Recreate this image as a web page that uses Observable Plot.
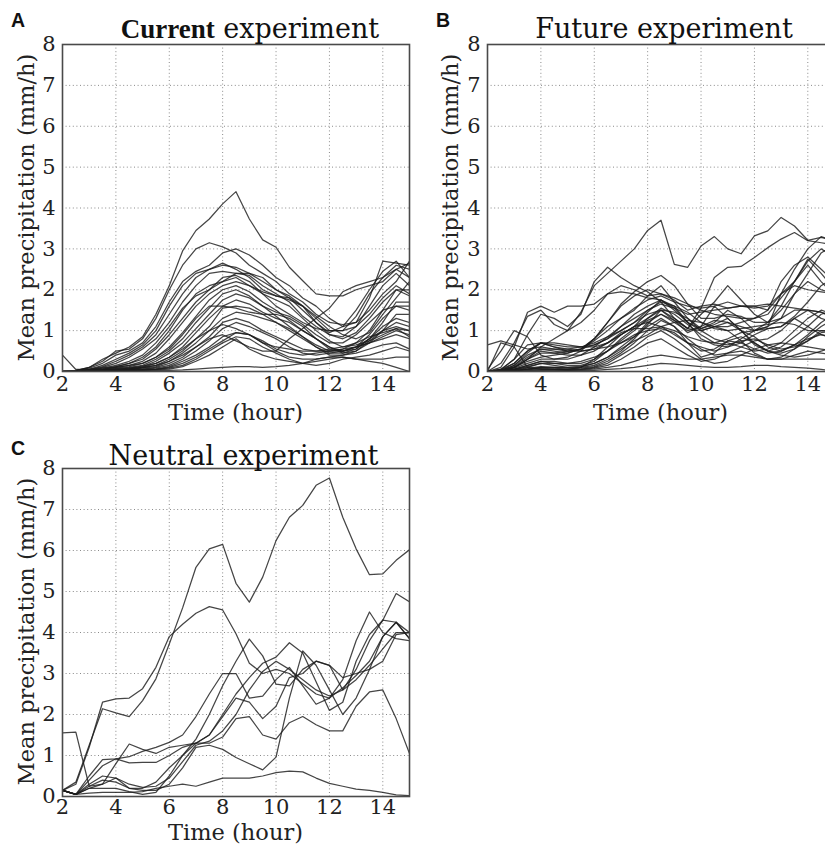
<!DOCTYPE html>
<html><head><meta charset="utf-8">
<script src="https://cdn.jsdelivr.net/npm/d3@7"></script>
<script src="https://cdn.jsdelivr.net/npm/@observablehq/plot@0.6"></script>
<style>
html,body{margin:0;padding:0;background:#fff;overflow:hidden;width:825px;height:851px;}
#wrap{position:relative;width:825px;height:851px;overflow:hidden;background:#fff;}
.panel{position:absolute;width:420px;}
.panel svg{max-width:none !important;}
</style></head><body><div id="wrap">
<div class="panel" id="pA" style="left:0;top:0"></div>
<div class="panel" id="pB" style="left:425px;top:0"></div>
<div class="panel" id="pC" style="left:0;top:424px"></div>
</div>
<script>
const times = [2,2.5,3,3.5,4,4.5,5,5.5,6,6.5,7,7.5,8,8.5,9,9.5,10,10.5,11,11.5,12,12.5,13,13.5,14,14.5,15];
const xTicks = [2,4,6,8,10,12,14];
const yTicks = [0,1,2,3,4,5,6,7,8];
const xLabel = "Time (hour)";
const yLabel = "Mean precipitation (mm/h)";

const currentRuns = [
[0.02,0.02,0.1,0.3,0.45,0.6,0.85,1.4,2.1,2.95,3.45,3.73,4.1,4.4,3.73,3.22,3.04,2.55,2.22,1.9,1.85,1.85,2.0,2.1,2.2,2.5,2.3],
[0.0,0.02,0.1,0.25,0.5,0.55,0.8,1.3,2.0,2.6,3.0,3.15,3.05,2.9,2.6,2.4,2.2,1.9,1.7,1.4,1.2,1.15,1.2,1.8,2.7,2.65,2.6],
[0.0,0.02,0.08,0.2,0.4,0.5,0.7,1.1,1.7,2.2,2.45,2.6,2.9,3.0,2.85,2.6,2.3,2.1,1.8,1.6,1.3,1.1,1.2,1.5,1.9,2.2,2.7],
[0.0,0.0,0.05,0.15,0.3,0.45,0.65,1.0,1.6,2.1,2.4,2.5,2.6,2.55,2.4,2.2,2.0,1.85,1.6,1.3,1.0,1.0,1.35,1.9,2.3,2.6,2.5],
[0.0,0.0,0.05,0.12,0.25,0.4,0.6,0.9,1.4,1.9,2.3,2.5,2.65,2.5,2.3,2.0,1.85,1.8,1.6,1.2,0.95,1.1,1.5,2.0,2.45,2.7,2.3],
[0.0,0.0,0.04,0.1,0.2,0.35,0.55,0.8,1.2,1.7,2.1,2.4,2.45,2.4,2.35,2.1,1.9,1.7,1.35,1.1,0.9,0.85,1.1,1.6,2.1,2.4,2.1],
[0.0,0.0,0.03,0.08,0.15,0.25,0.4,0.7,1.1,1.55,1.85,2.0,2.2,2.4,2.4,2.3,2.0,1.8,1.5,1.2,0.9,0.8,0.95,1.3,1.7,2.0,2.0],
[0.0,0.0,0.03,0.06,0.12,0.2,0.3,0.55,0.9,1.3,1.7,2.0,2.3,2.35,2.2,1.9,1.6,1.4,1.2,1.05,1.0,1.0,1.1,1.4,1.8,2.1,1.9],
[0.0,0.0,0.02,0.05,0.1,0.15,0.25,0.45,0.8,1.2,1.6,1.9,2.1,2.2,2.1,1.9,1.75,1.6,1.3,1.0,0.75,0.6,0.7,1.0,1.5,2.0,1.85],
[0.0,0.0,0.02,0.04,0.08,0.12,0.2,0.35,0.6,0.95,1.35,1.75,2.0,2.1,1.95,1.7,1.5,1.25,1.0,0.8,0.6,0.5,0.55,0.8,1.2,1.7,1.7],
[0.0,0.0,0.02,0.04,0.07,0.1,0.15,0.3,0.5,0.8,1.2,1.55,1.9,2.0,1.85,1.6,1.45,1.35,1.15,0.9,0.7,0.7,0.9,1.2,1.5,1.6,1.6],
[0.0,0.0,0.02,0.03,0.05,0.08,0.12,0.25,0.45,0.7,1.05,1.4,1.75,1.9,1.8,1.6,1.35,1.1,0.85,0.65,0.5,0.5,0.6,0.9,1.3,1.6,1.5],
[0.0,0.0,0.01,0.03,0.05,0.07,0.1,0.2,0.35,0.6,0.95,1.3,1.6,1.75,1.65,1.45,1.3,1.2,1.0,0.8,0.6,0.45,0.5,0.7,1.0,1.4,1.4],
[0.0,0.0,0.01,0.02,0.04,0.06,0.09,0.15,0.3,0.5,0.8,1.1,1.55,1.6,1.55,1.4,1.2,1.0,0.8,0.6,0.45,0.45,0.55,0.8,1.1,1.3,1.2],
[0.0,0.0,0.01,0.02,0.03,0.05,0.08,0.12,0.25,0.45,0.7,1.0,1.3,1.45,1.4,1.3,1.2,1.05,0.85,0.6,0.4,0.4,0.5,0.75,1.0,1.2,1.1],
[0.0,0.0,0.01,0.02,0.03,0.04,0.06,0.1,0.2,0.35,0.6,0.85,1.2,1.3,1.2,1.0,0.85,0.7,0.55,0.5,0.5,0.55,0.7,0.85,0.95,1.05,1.0],
[0.0,0.0,0.01,0.02,0.03,0.04,0.05,0.08,0.15,0.3,0.5,0.75,1.05,1.2,1.1,0.95,0.8,0.6,0.45,0.4,0.45,0.5,0.6,0.7,0.85,1.0,0.9],
[0.0,0.0,0.01,0.01,0.02,0.03,0.04,0.06,0.12,0.25,0.4,0.6,0.85,0.95,0.9,0.75,0.55,0.45,0.4,0.45,0.5,0.55,0.6,0.7,0.8,0.9,0.8],
[0.0,0.0,0.0,0.01,0.02,0.03,0.04,0.05,0.1,0.2,0.35,0.55,0.75,0.95,0.9,0.7,0.5,0.35,0.3,0.3,0.35,0.4,0.45,0.55,0.65,0.7,0.55],
[0.0,0.0,0.0,0.01,0.02,0.02,0.03,0.05,0.08,0.15,0.3,0.5,0.7,0.85,0.8,0.6,0.45,0.3,0.2,0.15,0.2,0.3,0.35,0.4,0.5,0.6,0.5],
[0.0,0.0,0.0,0.01,0.01,0.02,0.03,0.04,0.06,0.12,0.25,0.4,0.6,0.8,0.55,0.4,0.3,0.25,0.2,0.25,0.3,0.35,0.3,0.25,0.2,0.1,0.0],
[0.0,0.0,0.0,0.0,0.01,0.01,0.01,0.02,0.03,0.04,0.06,0.08,0.1,0.12,0.12,0.1,0.12,0.15,0.2,0.3,0.35,0.35,0.3,0.3,0.3,0.35,0.35],
[0.4,0.05,0.05,0.08,0.12,0.2,0.35,0.6,1.0,1.5,1.9,2.1,2.2,2.3,2.1,1.95,1.85,1.75,1.6,1.35,1.1,0.9,0.8,0.95,1.4,1.8,2.2],
[0.0,0.0,0.01,0.02,0.04,0.06,0.1,0.15,0.25,0.4,0.6,0.8,0.9,0.75,0.6,0.5,0.5,0.8,1.05,1.3,1.55,1.95,2.1,2.2,2.3,2.5,2.65],
[0.0,0.0,0.02,0.05,0.1,0.15,0.2,0.35,0.55,0.9,1.3,1.6,1.6,1.55,1.45,1.4,1.4,1.3,1.1,0.8,0.55,0.5,0.6,0.8,1.0,1.1,1.0],
[0.0,0.0,0.01,0.03,0.05,0.08,0.13,0.2,0.35,0.55,0.8,1.0,1.15,1.05,0.9,0.7,0.6,0.55,0.5,0.5,0.55,0.6,0.65,0.75,0.9,1.05,0.85]
];

const futureRuns = [
[0.0,0.0,0.1,0.3,0.6,0.8,1.0,1.45,2.1,2.4,2.7,3.0,3.45,3.7,2.62,2.55,3.07,3.3,3.0,2.88,3.32,3.44,3.77,3.56,3.21,3.28,3.2],
[0.0,0.05,0.3,0.9,1.4,1.3,1.1,1.4,2.2,2.55,2.3,2.1,1.95,1.7,1.3,1.05,1.55,2.3,2.55,2.57,2.79,3.03,3.24,3.4,3.2,3.15,3.1],
[0.0,0.1,0.6,1.45,1.6,1.45,1.6,1.6,1.65,1.9,2.1,2.0,1.85,1.9,1.75,1.5,1.6,1.65,1.55,1.6,1.6,1.5,1.9,2.2,2.7,3.0,2.8],
[0.0,0.2,0.7,1.35,1.5,1.15,1.0,1.2,1.5,1.9,1.95,1.9,1.8,1.75,1.6,1.2,1.05,1.2,1.5,1.3,1.0,1.1,1.9,2.5,3.0,3.3,3.2],
[0.05,0.5,1.0,0.85,0.4,0.3,0.35,0.5,0.8,1.1,1.3,1.5,1.85,2.1,1.7,1.3,1.0,0.8,0.7,0.6,0.5,0.55,0.7,1.0,1.3,1.5,1.4],
[0.65,0.75,0.65,0.55,0.6,0.55,0.5,0.5,0.55,0.7,0.9,1.1,1.45,1.75,1.55,1.2,0.8,0.65,0.6,0.7,0.9,1.05,1.1,1.3,1.1,0.9,0.8],
[0.0,0.7,0.6,0.1,0.05,0.05,0.05,0.1,0.3,0.6,0.9,1.1,1.2,1.1,0.9,0.7,0.6,0.5,0.6,0.8,1.0,1.1,1.3,1.9,2.2,2.0,1.9],
[0.0,0.05,0.2,0.5,0.7,0.65,0.6,0.6,0.7,0.85,1.0,1.2,1.4,1.5,1.3,1.05,1.4,1.7,2.1,1.75,1.4,1.2,1.3,1.5,1.5,1.3,1.2],
[0.0,0.02,0.15,0.4,0.55,0.5,0.45,0.55,0.8,1.2,1.6,1.85,2.0,1.9,1.8,1.65,1.5,1.4,1.35,1.3,1.3,1.5,2.2,2.6,2.8,2.5,2.2],
[0.0,0.02,0.1,0.3,0.45,0.45,0.5,0.55,0.75,1.0,1.3,1.55,1.75,1.85,1.7,1.6,1.55,1.6,1.7,1.6,1.55,1.6,1.9,2.1,2.0,1.95,1.9],
[0.0,0.02,0.1,0.25,0.35,0.4,0.45,0.55,0.8,1.2,1.65,1.95,2.2,2.35,2.1,1.65,1.3,1.3,1.4,1.35,1.2,1.2,1.6,2.2,2.6,2.2,1.85],
[0.0,0.02,0.08,0.2,0.3,0.3,0.3,0.4,0.6,0.85,1.1,1.4,1.6,1.75,1.5,1.2,1.0,1.1,1.2,1.1,1.0,1.05,1.1,1.35,1.7,2.1,2.3],
[0.0,0.02,0.05,0.15,0.25,0.2,0.15,0.15,0.25,0.5,0.75,1.0,1.3,1.5,1.25,0.95,1.1,1.6,1.3,1.0,0.85,0.6,0.5,0.65,0.9,1.2,1.4],
[0.0,0.01,0.05,0.1,0.2,0.15,0.1,0.12,0.2,0.35,0.6,0.85,1.1,1.3,1.1,0.8,0.55,0.4,0.45,0.6,0.75,0.8,1.0,1.3,1.5,1.45,1.3],
[0.0,0.01,0.04,0.08,0.12,0.1,0.08,0.1,0.15,0.3,0.5,0.8,1.15,1.5,1.45,1.3,1.05,1.15,1.3,1.0,0.7,0.5,0.45,0.55,0.75,1.0,0.95],
[0.0,0.01,0.03,0.06,0.1,0.08,0.06,0.08,0.12,0.25,0.45,0.7,1.0,1.25,1.1,0.7,0.35,0.45,0.75,0.7,0.55,0.45,0.5,0.65,0.8,0.9,0.85],
[0.0,0.01,0.02,0.05,0.08,0.06,0.05,0.06,0.1,0.2,0.4,0.6,0.85,1.0,0.8,0.55,0.3,0.2,0.25,0.4,0.55,0.65,0.7,0.65,0.6,0.55,0.5],
[0.0,0.0,0.02,0.04,0.06,0.05,0.04,0.05,0.08,0.15,0.3,0.5,0.7,0.8,0.6,0.4,0.25,0.3,0.45,0.5,0.4,0.3,0.3,0.4,0.5,0.45,0.4],
[0.0,0.0,0.0,0.01,0.01,0.01,0.02,0.02,0.03,0.05,0.07,0.1,0.15,0.2,0.18,0.15,0.12,0.1,0.1,0.12,0.15,0.15,0.12,0.1,0.08,0.05,0.02],
[0.0,0.0,0.01,0.02,0.03,0.03,0.03,0.04,0.06,0.1,0.15,0.25,0.35,0.4,0.35,0.3,0.3,0.35,0.4,0.4,0.35,0.3,0.3,0.3,0.3,0.3,0.3],
[0.0,0.03,0.2,0.5,0.7,0.6,0.5,0.55,0.65,0.8,1.0,1.2,1.5,1.7,1.6,1.45,1.2,1.1,1.1,1.2,1.3,1.4,1.8,2.2,2.75,2.4,2.0],
[0.0,0.02,0.15,0.45,0.7,0.7,0.65,0.6,0.6,0.7,0.9,1.1,1.3,1.55,1.4,1.15,0.9,0.7,0.65,0.75,0.8,0.65,0.55,0.6,0.75,0.95,1.0],
[0.0,0.02,0.1,0.3,0.5,0.45,0.4,0.4,0.5,0.7,0.95,1.05,1.05,1.1,1.2,1.25,1.2,1.05,1.0,1.05,1.1,1.15,1.2,1.15,1.0,1.0,1.0],
[0.0,0.02,0.12,0.35,0.55,0.55,0.55,0.6,0.65,0.8,1.1,1.3,1.5,1.65,1.55,1.4,1.45,1.5,1.55,1.6,1.6,1.65,1.6,1.55,1.5,1.45,1.35],
[0.0,0.01,0.06,0.15,0.25,0.25,0.2,0.2,0.3,0.5,0.7,0.9,1.0,1.05,0.95,0.7,0.5,0.55,0.75,0.85,0.7,0.5,0.4,0.35,0.4,0.5,0.6],
[0.0,0.05,0.3,0.65,0.7,0.6,0.55,0.5,0.55,0.6,0.7,0.85,1.2,1.4,1.25,1.05,1.0,1.1,1.0,0.75,0.45,0.3,0.35,0.55,0.85,1.1,1.3],
[0.0,0.01,0.05,0.12,0.2,0.2,0.2,0.25,0.35,0.5,0.8,1.05,1.25,1.4,1.2,1.0,1.1,1.25,1.2,1.0,0.65,0.5,0.6,0.85,1.1,1.4,1.5],
[0.0,0.01,0.03,0.06,0.1,0.1,0.1,0.12,0.2,0.35,0.55,0.75,0.9,1.1,1.0,0.85,0.75,0.7,0.8,0.95,1.0,1.2,1.5,1.9,2.4,2.9,3.1]
];

const neutralRuns = [
[0.15,0.35,1.25,2.14,2.04,1.95,2.34,2.87,3.72,4.6,5.59,6.04,6.15,5.2,4.74,5.35,6.24,6.81,7.1,7.59,7.77,6.81,6.04,5.41,5.43,5.76,6.02],
[0.15,0.3,1.2,2.3,2.38,2.4,2.63,3.15,3.9,4.2,4.47,4.63,4.55,3.97,3.25,3.0,3.1,3.0,2.75,2.5,2.4,2.65,2.95,3.3,3.9,4.25,3.85],
[1.55,1.57,0.25,0.3,0.45,0.3,0.22,0.25,0.45,0.85,1.25,1.35,1.6,2.0,2.6,3.05,3.3,3.1,2.85,2.6,2.45,2.6,2.85,3.2,3.6,4.0,4.0],
[0.15,0.05,0.08,0.1,0.1,0.1,0.12,0.2,0.25,0.3,0.25,0.35,0.45,0.45,0.45,0.5,0.58,0.62,0.6,0.45,0.32,0.25,0.18,0.15,0.1,0.04,0.02],
[0.15,0.05,0.2,0.3,0.8,1.28,1.15,1.05,1.2,1.25,1.3,1.3,1.45,1.9,1.95,1.5,1.4,1.8,1.95,1.75,1.6,1.6,2.2,2.55,2.6,1.9,1.05],
[0.15,0.05,0.5,0.9,0.92,0.97,1.1,1.2,1.32,1.5,1.95,2.5,3.0,3.0,2.4,2.45,2.85,3.15,2.7,2.25,2.4,2.85,3.8,4.5,4.0,3.85,3.8],
[0.15,0.05,0.4,0.75,0.92,0.82,0.83,0.83,1.0,1.2,1.3,1.5,1.95,2.4,2.3,1.9,2.2,2.9,3.0,3.3,3.2,2.9,3.0,3.1,3.3,3.95,4.0],
[0.15,0.05,0.2,0.2,0.2,0.12,0.05,0.1,0.5,1.0,1.4,2.0,2.7,3.3,3.84,3.43,2.74,2.7,3.1,3.3,3.2,2.6,3.1,3.8,4.3,4.25,3.85],
[0.15,0.05,0.25,0.4,0.35,0.2,0.2,0.35,0.7,1.0,1.3,1.5,2.0,2.5,2.9,3.25,3.4,3.75,3.5,2.8,2.1,2.3,3.3,3.95,4.3,4.95,4.75],
[0.15,0.05,0.3,0.5,0.45,0.2,0.15,0.15,0.3,0.7,1.2,1.25,1.15,0.95,0.8,0.65,0.96,2.4,3.55,3.2,2.6,2.0,2.4,3.1,3.9,4.25,4.0]
];

function toRows(runs) {
  const rows = [];
  runs.forEach((vals, k) => vals.forEach((v, i) => {
    if (i < times.length) rows.push({run: k, time: times[i], precip: v});
  }));
  return rows;
}

function makePanel(el, runs, cfg) {
  const H = cfg.height;
  const svg = Plot.plot({
    width: 420, height: H,
    marginLeft: 62, marginRight: 11, marginTop: 44, marginBottom: cfg.marginBottom,
    style: {fontFamily: "'DejaVu Serif', serif", background: "white", overflow: "visible", color: "#222", maxWidth: "none"},
    x: {domain: [2, 15]},
    y: {domain: [0, 8]},
    marks: [
      Plot.gridX(xTicks, {stroke: "#8a8a8a", strokeOpacity: 1, strokeWidth: 1, strokeDasharray: "1,2.6"}),
      Plot.gridY(yTicks.slice(1, -1), {stroke: "#8a8a8a", strokeOpacity: 1, strokeWidth: 1, strokeDasharray: "1,2.6"}),
      Plot.line(toRows(runs), {x: "time", y: "precip", z: "run", stroke: "#1c1c1c", strokeWidth: 1.25, strokeOpacity: 0.82, clip: true}),
      Plot.frame({stroke: "#4a4a4a", strokeWidth: 1.6}),
      Plot.axisX(xTicks, {tickSize: 0, tickPadding: cfg.xTickPad, fontSize: 21, fontFamily: "'DejaVu Serif', serif", label: null, fill: "#222"}),
      Plot.axisY(yTicks, {tickSize: 0, tickPadding: 7, fontSize: 21, fontFamily: "'DejaVu Serif', serif", label: null, fill: "#222"})
    ]
  });
  const s = d3.select(svg);
  s.append("text").attr("x", 18).attr("y", cfg.letterY)
    .attr("font-family", "'Liberation Sans', Arial, sans-serif").attr("font-weight", "bold")
    .attr("font-size", 19.5).attr("fill", "#111").text(cfg.letter);
  const t = s.append("text").attr("x", cfg.titleX).attr("y", cfg.titleY)
    .attr("text-anchor", "middle").attr("font-family", "'DejaVu Serif', serif")
    .attr("font-size", 27).attr("fill", "#111");
  if (cfg.boldWord) {
    t.append("tspan").attr("font-family", "'Liberation Serif', serif").attr("font-weight", "bold").text(cfg.boldWord);
    t.append("tspan").text(cfg.title);
  } else {
    t.text(cfg.title);
  }
  s.append("text").attr("transform", `translate(${cfg.yLabelX},207.5) rotate(-90)`)
    .attr("text-anchor", "middle").attr("dominant-baseline", "central")
    .attr("font-family", "'DejaVu Serif', serif").attr("font-size", 22.5).attr("fill", "#222").text(yLabel);
  s.append("text").attr("x", 235.5).attr("y", cfg.xLabelY)
    .attr("text-anchor", "middle").attr("font-family", "'DejaVu Serif', serif")
    .attr("font-size", 22.5).attr("fill", "#222").text(xLabel);
  el.appendChild(svg);
}

makePanel(document.getElementById("pA"), currentRuns, {height: 425, marginBottom: 54, xTickPad: 5, letter: "A", letterY: 27, titleX: 250, titleY: 38, boldWord: "Current", title: " experiment", yLabelX: 26, xLabelY: 419.5});
makePanel(document.getElementById("pB"), futureRuns, {height: 425, marginBottom: 54, xTickPad: 5, letter: "B", letterY: 27, titleX: 239, titleY: 38, title: "Future experiment", yLabelX: 25, xLabelY: 419.5});
makePanel(document.getElementById("pC"), neutralRuns, {height: 427, marginBottom: 55, xTickPad: 3, letter: "C", letterY: 31, titleX: 243.5, titleY: 40.5, title: "Neutral experiment", yLabelX: 26, xLabelY: 416});
</script>
</body></html>
